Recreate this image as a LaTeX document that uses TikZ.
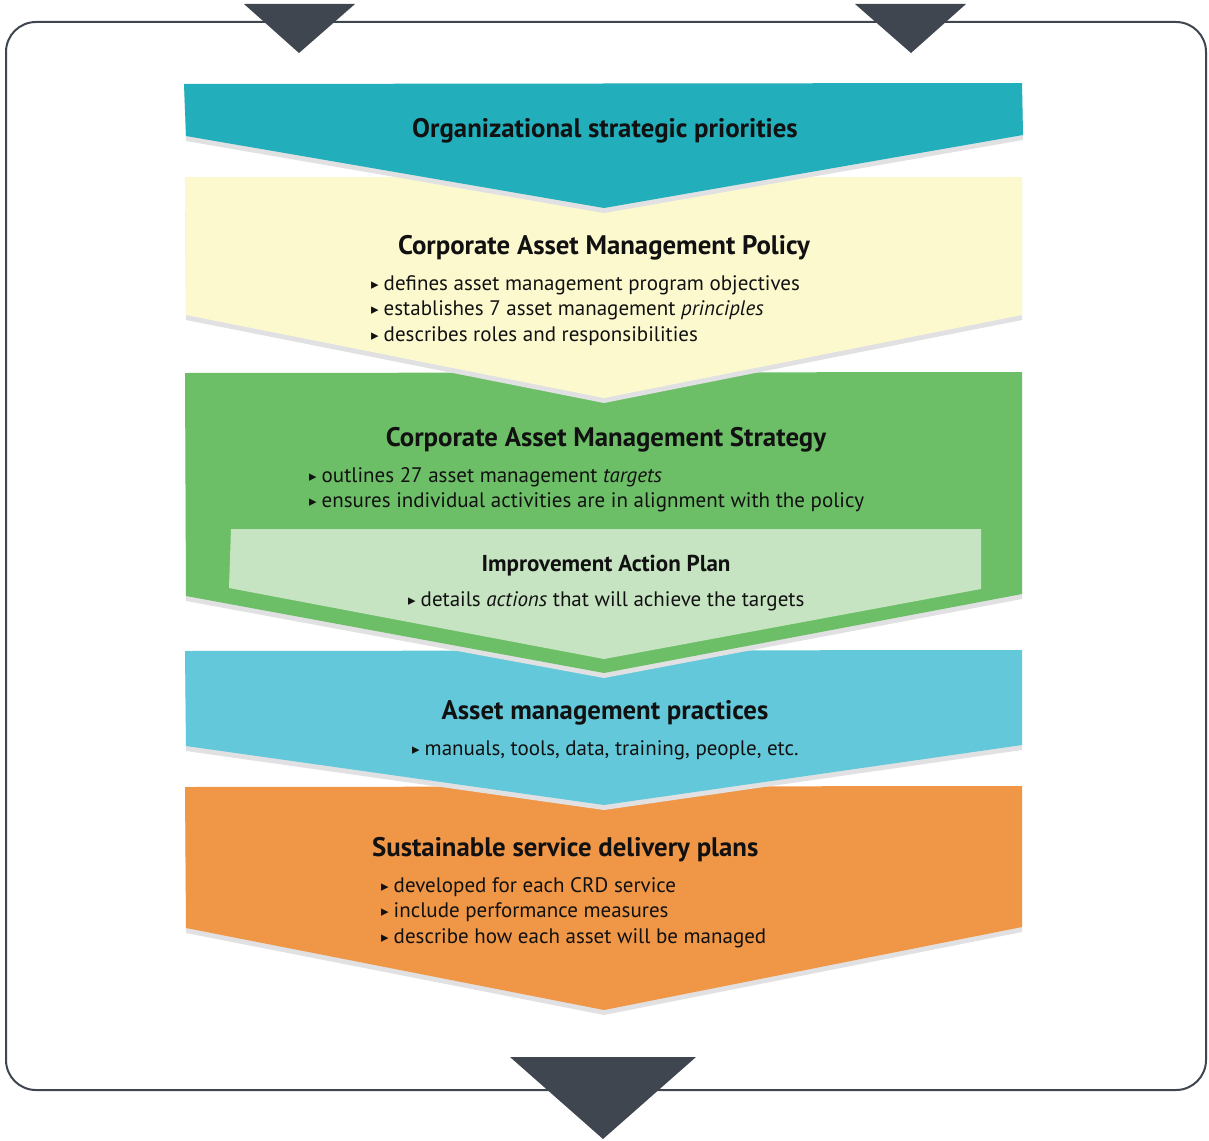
\documentclass[tikz,border=0pt]{standalone}
\usepackage{fontspec}
\setmainfont{PT Sans}
\newfontfamily\dvfont{DejaVu Sans}
\definecolor{teal1}{HTML}{22AEBB}
\definecolor{yel1}{HTML}{FCF9CF}
\definecolor{grn1}{HTML}{6DBF67}
\definecolor{lgrn1}{HTML}{C6E4C1}
\definecolor{blu1}{HTML}{63C9DA}
\definecolor{org1}{HTML}{F09647}
\definecolor{dark1}{HTML}{3F4650}
\definecolor{shad1}{HTML}{E1E1E3}
\definecolor{ink1}{HTML}{111111}
\newcommand{\bul}{\raisebox{1pt}{\dvfont\fontsize{15}{15}\selectfont ▸}\hspace{5pt}}
\begin{document}
\begin{tikzpicture}[x=1pt,y=-1pt,
  ttl/.style={font=\fontsize{26.8}{30}\selectfont\bfseries, text=ink1, inner sep=0, text height=0.72em, text depth=0.22em},
  subttl/.style={font=\fontsize{23}{26}\selectfont\bfseries, text=ink1, inner sep=0, text height=0.72em, text depth=0.22em},
  item/.style={font=\fontsize{21}{24}\selectfont, text=ink1, inner sep=0, anchor=west, text height=0.72em, text depth=0.22em},
  tri/.style={fill=dark1},
  shadow/.style={fill=shad1, yshift=-5pt}]
\useasboundingbox (0,0) rectangle (1209,1140);
% frame
\draw[dark1, line width=2pt, rounded corners=30pt] (6,22) rectangle (1206,1090);
% orange
\fill[shadow] (185,787) -- (1022,786) -- (1022,927) -- (604,1010) -- (186,928) -- cycle;
\fill[org1] (185,787) -- (1022,786) -- (1022,927) -- (604,1010) -- (186,928) -- cycle;
% blue
\fill[shadow] (185,651) -- (1022,650) -- (1022,745) -- (604,805) -- (186,746) -- cycle;
\fill[blu1] (185,651) -- (1022,650) -- (1022,745) -- (604,805) -- (186,746) -- cycle;
% green
\fill[shadow] (185,373) -- (1022,372) -- (1022,594) -- (604,673) -- (186,596) -- cycle;
\fill[grn1] (185,373) -- (1022,372) -- (1022,594) -- (604,673) -- (186,596) -- cycle;
\fill[lgrn1] (231,529) -- (981,529) -- (981,589) -- (604,659) -- (229,588) -- cycle;
% yellow
\fill[shadow] (185,177) -- (1022,177) -- (1022,315) -- (604,398) -- (186,315) -- cycle;
\fill[yel1] (185,177) -- (1022,177) -- (1022,315) -- (604,398) -- (186,315) -- cycle;
% teal
\fill[shadow] (184,84) -- (1022,83) -- (1023,135) -- (604,208) -- (186,136) -- cycle;
\fill[teal1] (184,84) -- (1022,83) -- (1023,135) -- (604,208) -- (186,136) -- cycle;
% triangles
\fill[tri] (244,4) -- (355,4) -- (299,53) -- cycle;
\fill[tri] (855,4) -- (966,4) -- (911,53) -- cycle;
\fill[tri] (510,1057) -- (696,1057) -- (603,1139) -- cycle;
% texts
\node[ttl] (t1) at (605,135) {Organizational strategic priorities};
\node[ttl] (t2) at (604,252) {Corporate Asset Management Policy};
\node[item] (t2a) at (371,288) {\bul defines asset management program objectives};
\node[item] (t2b) at (371,313) {\bul establishes 7 asset management \textit{principles}};
\node[item] (t2c) at (371,339) {\bul describes roles and responsibilities};
\node[ttl] (t3) at (606,444) {Corporate Asset Management Strategy};
\node[item] (t3a) at (309,480) {\bul outlines 27 asset management \textit{targets}};
\node[item] (t3b) at (309,505) {\bul ensures individual activities are in alignment with the policy};
\node[subttl] (t4) at (606,569) {Improvement Action Plan};
\node[item] (t4a) at (408,604) {\bul details \textit{actions} that will achieve the targets};
\node[ttl] (t5) at (605,717) {Asset management practices};
\node[item] (t5a) at (412,753) {\bul manuals, tools, data, training, people, etc.};
\node[ttl, anchor=west] (t6) at (372,854) {Sustainable service delivery plans};
\node[item] (t6a) at (381,890) {\bul developed for each CRD service};
\node[item] (t6b) at (381,915) {\bul include performance measures};
\node[item] (t6c) at (381,941) {\bul describe how each asset will be managed};
\end{tikzpicture}
\end{document}
